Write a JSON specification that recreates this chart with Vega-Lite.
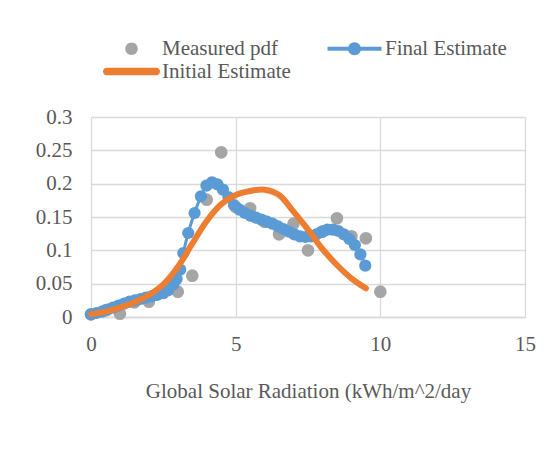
{
  "$schema": "https://vega.github.io/schema/vega-lite/v6.json",
  "width": 434,
  "height": 200,
  "autosize": {"type": "none"},
  "padding": {"left": 91, "top": 117, "right": 33, "bottom": 135},
  "background": "white",
  "config": {
    "view": {"stroke": null},
    "font": "Liberation Serif",
    "axis": {
      "labelFont": "Liberation Serif",
      "labelFontSize": 21,
      "labelColor": "#595959",
      "titleFont": "Liberation Serif",
      "titleFontSize": 21,
      "titleFontWeight": "normal",
      "titleColor": "#595959",
      "gridColor": "#d9d9d9",
      "gridWidth": 1.3,
      "ticks": false,
      "tickSize": 0,
      "labelOverlap": false,
      "labelFlush": false
    },
    "legend": {
      "labelFont": "Liberation Serif",
      "labelFontSize": 21,
      "labelColor": "#595959"
    }
  },
  "datasets": {
    "legendrows": [
      {"series": "Measured pdf", "x": null, "y": null},
      {"series": "Final Estimate", "x": null, "y": null},
      {"series": "Initial Estimate", "x": null, "y": null}
    ],
    "measured": [
      {"x": 0, "y": 0.004},
      {"x": 0.5, "y": 0.01},
      {"x": 1, "y": 0.005},
      {"x": 1.5, "y": 0.022},
      {"x": 2, "y": 0.023},
      {"x": 2.5, "y": 0.036},
      {"x": 3, "y": 0.038},
      {"x": 3.5, "y": 0.062},
      {"x": 4, "y": 0.176},
      {"x": 4.5, "y": 0.247},
      {"x": 5, "y": 0.165},
      {"x": 5.5, "y": 0.163},
      {"x": 6, "y": 0.143},
      {"x": 6.5, "y": 0.124},
      {"x": 7, "y": 0.14},
      {"x": 7.5, "y": 0.1},
      {"x": 8, "y": 0.128},
      {"x": 8.5, "y": 0.148},
      {"x": 9, "y": 0.121},
      {"x": 9.5, "y": 0.118},
      {"x": 10, "y": 0.038}
    ],
    "final": [
      {"x": 0.00, "y": 0.004},
      {"x": 0.19, "y": 0.006},
      {"x": 0.38, "y": 0.008},
      {"x": 0.57, "y": 0.011},
      {"x": 0.76, "y": 0.014},
      {"x": 0.95, "y": 0.017},
      {"x": 1.14, "y": 0.020},
      {"x": 1.33, "y": 0.023},
      {"x": 1.52, "y": 0.025},
      {"x": 1.71, "y": 0.027},
      {"x": 1.90, "y": 0.029},
      {"x": 2.09, "y": 0.031},
      {"x": 2.28, "y": 0.033},
      {"x": 2.47, "y": 0.036},
      {"x": 2.66, "y": 0.040},
      {"x": 2.85, "y": 0.049},
      {"x": 2.96, "y": 0.057},
      {"x": 3.08, "y": 0.071},
      {"x": 3.19, "y": 0.096},
      {"x": 3.36, "y": 0.126},
      {"x": 3.58, "y": 0.156},
      {"x": 3.80, "y": 0.181},
      {"x": 3.99, "y": 0.197},
      {"x": 4.18, "y": 0.202},
      {"x": 4.37, "y": 0.199},
      {"x": 4.56, "y": 0.191},
      {"x": 4.75, "y": 0.180},
      {"x": 4.94, "y": 0.168},
      {"x": 5.13, "y": 0.161},
      {"x": 5.32, "y": 0.156},
      {"x": 5.51, "y": 0.152},
      {"x": 5.70, "y": 0.149},
      {"x": 5.89, "y": 0.146},
      {"x": 6.08, "y": 0.143},
      {"x": 6.27, "y": 0.140},
      {"x": 6.46, "y": 0.136},
      {"x": 6.65, "y": 0.132},
      {"x": 6.84, "y": 0.128},
      {"x": 7.03, "y": 0.124},
      {"x": 7.22, "y": 0.121},
      {"x": 7.41, "y": 0.120},
      {"x": 7.60, "y": 0.121},
      {"x": 7.79, "y": 0.124},
      {"x": 7.98, "y": 0.128},
      {"x": 8.17, "y": 0.131},
      {"x": 8.36, "y": 0.131},
      {"x": 8.55, "y": 0.129},
      {"x": 8.74, "y": 0.124},
      {"x": 8.93, "y": 0.117},
      {"x": 9.12, "y": 0.108},
      {"x": 9.31, "y": 0.094},
      {"x": 9.48, "y": 0.077}
    ],
    "initial": [
      {"x": 0, "y": 0.004},
      {"x": 0.5, "y": 0.008},
      {"x": 1, "y": 0.014},
      {"x": 1.5, "y": 0.022},
      {"x": 2, "y": 0.033},
      {"x": 2.5, "y": 0.049},
      {"x": 3, "y": 0.075},
      {"x": 3.5, "y": 0.11},
      {"x": 4, "y": 0.144},
      {"x": 4.5, "y": 0.169},
      {"x": 5, "y": 0.183},
      {"x": 5.5, "y": 0.189},
      {"x": 6, "y": 0.191},
      {"x": 6.5, "y": 0.183},
      {"x": 7, "y": 0.158},
      {"x": 7.5, "y": 0.131},
      {"x": 8, "y": 0.102},
      {"x": 8.5, "y": 0.078},
      {"x": 9, "y": 0.058},
      {"x": 9.5, "y": 0.043}
    ]
  },
  "layer": [
    {
      "data": {"name": "legendrows"},
      "mark": {"type": "point", "filled": true, "opacity": 1},
      "encoding": {
        "x": {
          "field": "x", "type": "quantitative",
          "scale": {"domain": [0, 15], "nice": false},
          "axis": {
            "values": [0, 5, 10, 15],
            "tickCount": 20,
            "title": "Global Solar Radiation (kWh/m^2/day",
            "labelPadding": 16,
            "titlePadding": 26,
            "domainColor": "#d9d9d9",
            "domainWidth": 1.3,
            "labelFlush": false
          }
        },
        "y": {
          "field": "y", "type": "quantitative",
          "scale": {"domain": [0, 0.3], "nice": false},
          "axis": {
            "values": [0, 0.05, 0.1, 0.15, 0.2, 0.25, 0.3],
            "tickCount": 20,
            "format": "~g",
            "title": null,
            "domain": false,
            "labelPadding": 19,
            "labelOverlap": false,
            "labelFlush": false
          }
        },
        "color": {
          "field": "series",
          "type": "nominal",
          "scale": {
            "domain": ["Measured pdf", "Initial Estimate", "Final Estimate"],
            "range": ["#a5a5a5", "#ed7d31", "#5b9bd5"]
          },
          "legend": {
            "title": null,
            "orient": "none",
            "legendX": 30,
            "legendY": -79,
            "columns": 2,
            "columnPadding": 36,
            "rowPadding": 1,
            "labelOffset": 20,
            "symbolSize": 100,
            "symbolStrokeWidth": 0
          }
        },
        "shape": {
          "field": "series",
          "type": "nominal",
          "scale": {
            "domain": ["Measured pdf", "Initial Estimate", "Final Estimate"],
            "range": [
              "M1.25,0 A1.25,1.25 0 1 1 -1.25,0 A1.25,1.25 0 1 1 1.25,0 Z",
              "M-4.95,-0.75 H4.95 A0.75,0.75 0 0 1 4.95,0.75 H-4.95 A0.75,0.75 0 0 1 -4.95,-0.75 Z",
              "M-5.4,-0.4 H5.4 V0.4 H-5.4 Z M1.3,0 A1.3,1.3 0 1 1 -1.3,0 A1.3,1.3 0 1 1 1.3,0 Z"
            ]
          },
          "legend": {
            "title": null,
            "orient": "none",
            "legendX": 30,
            "legendY": -79,
            "columns": 2,
            "columnPadding": 36,
            "rowPadding": 1,
            "labelOffset": 20,
            "symbolSize": 100,
            "symbolStrokeWidth": 0
          }
        }
      }
    },
    {
      "data": {"name": "measured"},
      "mark": {"type": "point", "filled": true, "opacity": 1, "size": 160, "color": "#a5a5a5"},
      "encoding": {
        "x": {"field": "x", "type": "quantitative"},
        "y": {"field": "y", "type": "quantitative"}
      }
    },
    {
      "data": {"name": "final"},
      "mark": {
        "type": "line",
        "color": "#5b9bd5",
        "strokeWidth": 3,
        "interpolate": "monotone",
        "point": {"filled": true, "size": 150, "color": "#5b9bd5", "opacity": 1}
      },
      "encoding": {
        "x": {"field": "x", "type": "quantitative"},
        "y": {"field": "y", "type": "quantitative"}
      }
    },
    {
      "data": {"name": "initial"},
      "mark": {
        "type": "line",
        "color": "#ed7d31",
        "strokeWidth": 6,
        "strokeCap": "round",
        "interpolate": "catmull-rom"
      },
      "encoding": {
        "x": {"field": "x", "type": "quantitative"},
        "y": {"field": "y", "type": "quantitative"}
      }
    }
  ]
}
